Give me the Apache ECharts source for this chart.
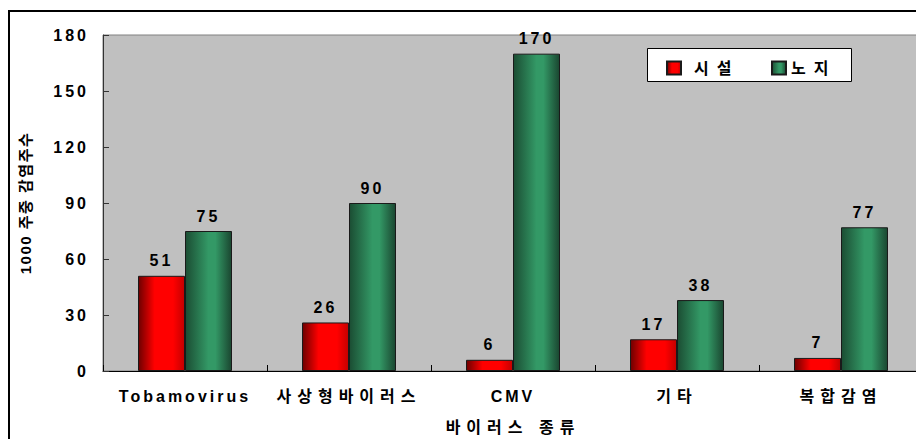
<!DOCTYPE html>
<html>
<head>
<meta charset="utf-8">
<script src="https://cdn.jsdelivr.net/npm/echarts@6/dist/echarts.min.js"></script>
<style>
  html, body { margin: 0; padding: 0; background: #fff; }
  #chart { width: 916px; height: 439px; }
</style>
</head>
<body>
<div id="chart"></div>
<script>
// Virus types surveyed
const categories = ['Tobamovirus', '사상형바이러스', 'CMV', '기타', '복합감염'];
// Infected plants per 1000 plants
const facilityValues = [51, 26, 6, 17, 7];      // 시설
const openFieldValues = [75, 90, 170, 38, 77];  // 노지
const seriesNames = ['시설', '노지'];
const yAxisTitle = '1000 주중 감염주수';
const xAxisTitle = '바이러스 종류';
const yMin = 0, yMax = 180, yStep = 30;

const FONT = "'Liberation Sans', 'Noto Sans CJK KR', sans-serif";

const redFill = new echarts.graphic.LinearGradient(0, 0, 1, 0, [
  { offset: 0, color: '#6e0000' },
  { offset: 0.35, color: '#ff0000' },
  { offset: 0.75, color: '#ff0000' },
  { offset: 1, color: '#c40000' }
]);
const greenFill = new echarts.graphic.LinearGradient(0, 0, 1, 0, [
  { offset: 0, color: '#1b4d33' },
  { offset: 0.5, color: '#339966' },
  { offset: 0.65, color: '#339966' },
  { offset: 1, color: '#1a4630' }
]);

const labelStyle = {
  show: true,
  position: 'top',
  distance: 7,
  color: '#000',
  fontFamily: FONT,
  fontSize: 16,
  fontWeight: 'bold'
};

const chart = echarts.init(document.getElementById('chart'), null, { renderer: 'svg' });

chart.setOption({
  animation: false,
  backgroundColor: '#fff',
  grid: {
    left: 103, top: 35, right: -7, bottom: 68,
    show: true,
    backgroundColor: '#c0c0c0',
    borderColor: '#808080',
    borderWidth: 1,
    outerBoundsMode: 'none'
  },
  legend: [
    {
      data: [seriesNames[0]],
      left: 666, top: 60,
      itemWidth: 14, itemHeight: 13,
      padding: 0,
      z: 6,
      icon: 'rect',
      textStyle: { fontFamily: FONT, fontSize: 16, fontWeight: 'bold', color: '#000', padding: [0, 0, 0, 8] }
    },
    {
      data: [seriesNames[1]],
      left: 771, top: 60,
      itemWidth: 14, itemHeight: 13,
      padding: 0,
      z: 6,
      icon: 'rect',
      textStyle: { fontFamily: FONT, fontSize: 16, fontWeight: 'bold', color: '#000' }
    }
  ],
  graphic: [
    {
      type: 'rect',
      z: 3,
      shape: { x: 9, y: 11, width: 1000, height: 1000 },
      style: { fill: 'none', stroke: '#000', lineWidth: 2 }
    },
    {
      type: 'rect',
      z: 4,
      shape: { x: 647.5, y: 48.5, width: 204, height: 33 },
      style: { fill: '#fff', stroke: '#000', lineWidth: 1 }
    }
  ],
  xAxis: {
    type: 'category',
    data: categories,
    name: xAxisTitle,
    nameLocation: 'middle',
    nameGap: 48,
    nameTextStyle: { fontFamily: FONT, fontSize: 16, fontWeight: 'bold', color: '#000' },
    axisLine: { lineStyle: { color: '#000', width: 1 } },
    axisTick: { show: true, inside: true, length: 6, lineStyle: { color: '#000' } },
    axisLabel: { margin: 17, color: '#000', fontFamily: FONT, fontSize: 16, fontWeight: 'bold' },
    splitLine: { show: false }
  },
  yAxis: {
    type: 'value',
    min: yMin, max: yMax, interval: yStep,
    name: yAxisTitle,
    nameLocation: 'middle',
    nameGap: 70,
    nameRotate: 90,
    nameTextStyle: { fontFamily: FONT, fontSize: 15, fontWeight: 'bold', color: '#000' },
    axisLine: { show: true, lineStyle: { color: '#333', width: 1 } },
    axisTick: { show: true, inside: true, length: 6, lineStyle: { color: '#333' } },
    axisLabel: { margin: 14, color: '#000', fontFamily: FONT, fontSize: 16, fontWeight: 'bold' },
    splitLine: { show: false }
  },
  series: [
    {
      name: seriesNames[0],
      type: 'bar',
      data: facilityValues,
      barWidth: 47,
      barGap: '0%',
      itemStyle: { color: redFill, borderColor: '#1a1a1a', borderWidth: 1 },
      label: labelStyle
    },
    {
      name: seriesNames[1],
      type: 'bar',
      data: openFieldValues,
      barWidth: 47,
      barGap: '0%',
      itemStyle: { color: greenFill, borderColor: '#1a1a1a', borderWidth: 1 },
      label: labelStyle
    }
  ]
});

// Widen character spacing of the drawn texts
function spaceTexts() {
  document.querySelectorAll('#chart text').forEach(function (t) {
    const s = t.textContent;
    let ls = 3;
    if (s === yAxisTitle) ls = 1.5;
    else if (seriesNames.indexOf(s) >= 0) ls = 8;
    else if (/[\uAC00-\uD7A3]/.test(s)) ls = 6;
    t.style.letterSpacing = ls + 'px';
  });
}
chart.on('finished', spaceTexts);
spaceTexts();
</script>
</body>
</html>
